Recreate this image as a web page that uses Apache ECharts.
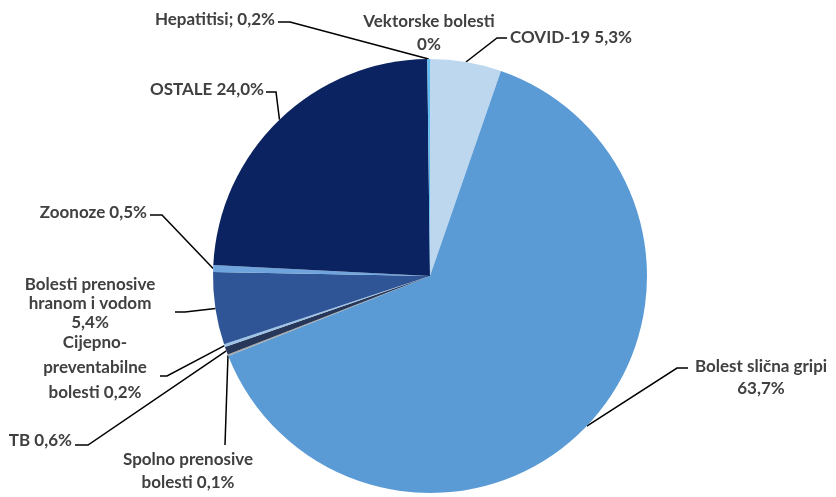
<!DOCTYPE html>
<html>
<head>
<meta charset="utf-8">
<script src="https://cdn.jsdelivr.net/npm/echarts@6/dist/echarts.min.js"></script>
<style>
  html, body { margin: 0; padding: 0; background: #fff; }
  #chart { width: 836px; height: 497px; }
</style>
</head>
<body>
<div id="chart"></div>
<script>
// categories and shares (%), clockwise from 12 o'clock
var names = [
  "COVID-19",
  "Bolest slična gripi",
  "Spolno prenosive bolesti",
  "TB",
  "Cijepno-preventabilne bolesti",
  "Bolesti prenosive hranom i vodom",
  "Zoonoze",
  "OSTALE",
  "Hepatitisi",
  "Vektorske bolesti"
];
var values = [5.3, 63.7, 0.1, 0.6, 0.2, 5.4, 0.5, 24.0, 0.2, 0];
var labelTexts = [
  "COVID-19 5,3%",
  "Bolest slična gripi\n63,7%",
  "Spolno prenosive\nbolesti 0,1%",
  "TB 0,6%",
  "Cijepno-\npreventabilne\nbolesti 0,2%",
  "Bolesti prenosive\nhranom i vodom\n5,4%",
  "Zoonoze 0,5%",
  "OSTALE 24,0%",
  "Hepatitisi; 0,2%",
  "Vektorske bolesti\n0%"
];
var colors = ["#bdd7ee", "#5b9bd5", "#a5a5a5", "#26375a", "#9dc3e6",
              "#2f5597", "#70a4dd", "#0b2360", "#62bdf0", "#00b0f0"];

var CX = 430, CY = 276, R = 217;

// label placement: text anchor, alignment, elbow and end of leader line
var layout = [
  { x: 510, y: 38, align: "left", lh: 21, elbow: [497, 38], end: [507, 38] },
  { x: 761, y: 378, align: "center", lh: 22, elbow: [677, 368], end: [688, 368] },
  { x: 188, y: 471, align: "center", lh: 23, elbow: [225, 445], end: [225, 445] },
  { x: 72, y: 441, align: "right", lh: 21, elbow: [88, 445], end: [75, 445] },
  { x: 95, y: 368, align: "center", lh: 25, elbow: [167, 376], end: [160, 376] },
  { x: 90, y: 304, align: "center", lh: 19, elbow: [185, 312], end: [175, 312] },
  { x: 147, y: 213, align: "right", lh: 21, elbow: [162, 215], end: [150, 215] },
  { x: 264, y: 90, align: "right", lh: 21, elbow: [276, 92], end: [266, 92] },
  { x: 275, y: 20, align: "right", lh: 21, elbow: [290, 22], end: [278, 22] },
  { x: 429, y: 33, align: "center", lh: 23, elbow: null, end: null }
];

var total = values.reduce(function (a, b) { return a + b; }, 0);
function anchorOf(i) {
  var cum = 0;
  for (var k = 0; k < i; k++) cum += values[k];
  var phi = (cum + values[i] / 2) / total * Math.PI * 2;
  return [CX + R * Math.sin(phi), CY - R * Math.cos(phi)];
}

var myChart = echarts.init(document.getElementById("chart"));
var pieData = names.map(function (n, i) {
  return {
    name: n,
    value: values[i],
    itemStyle: { color: colors[i] },
    label: { formatter: labelTexts[i], lineHeight: layout[i].lh },
    labelLine: { show: i !== 9 }
  };
});

var option = {
  animation: false,
  series: [
    {
      type: "pie",
      center: [CX, CY],
      radius: R,
      startAngle: 90,
      clockwise: true,
      avoidLabelOverlap: false,
      minShowLabelAngle: 0,
      stillShowZeroSum: true,
      data: pieData,
      label: {
        show: true,
        position: "outside",
        color: "#404040",
        fontFamily: "Lato",
        fontWeight: "bold",
        fontSize: 17
      },
      labelLine: {
        show: true,
        lineStyle: { color: "#000", width: 1.5 }
      },
      labelLayout: function (params) {
        var l = layout[params.dataIndex];
        var res = {
          x: l.x,
          y: l.y,
          align: l.align,
          verticalAlign: "middle"
        };
        if (l.elbow) {
          res.labelLinePoints = [anchorOf(params.dataIndex), l.elbow, l.end];
        }
        return res;
      }
    }
  ]
};
myChart.setOption(option);
</script>
</body>
</html>
